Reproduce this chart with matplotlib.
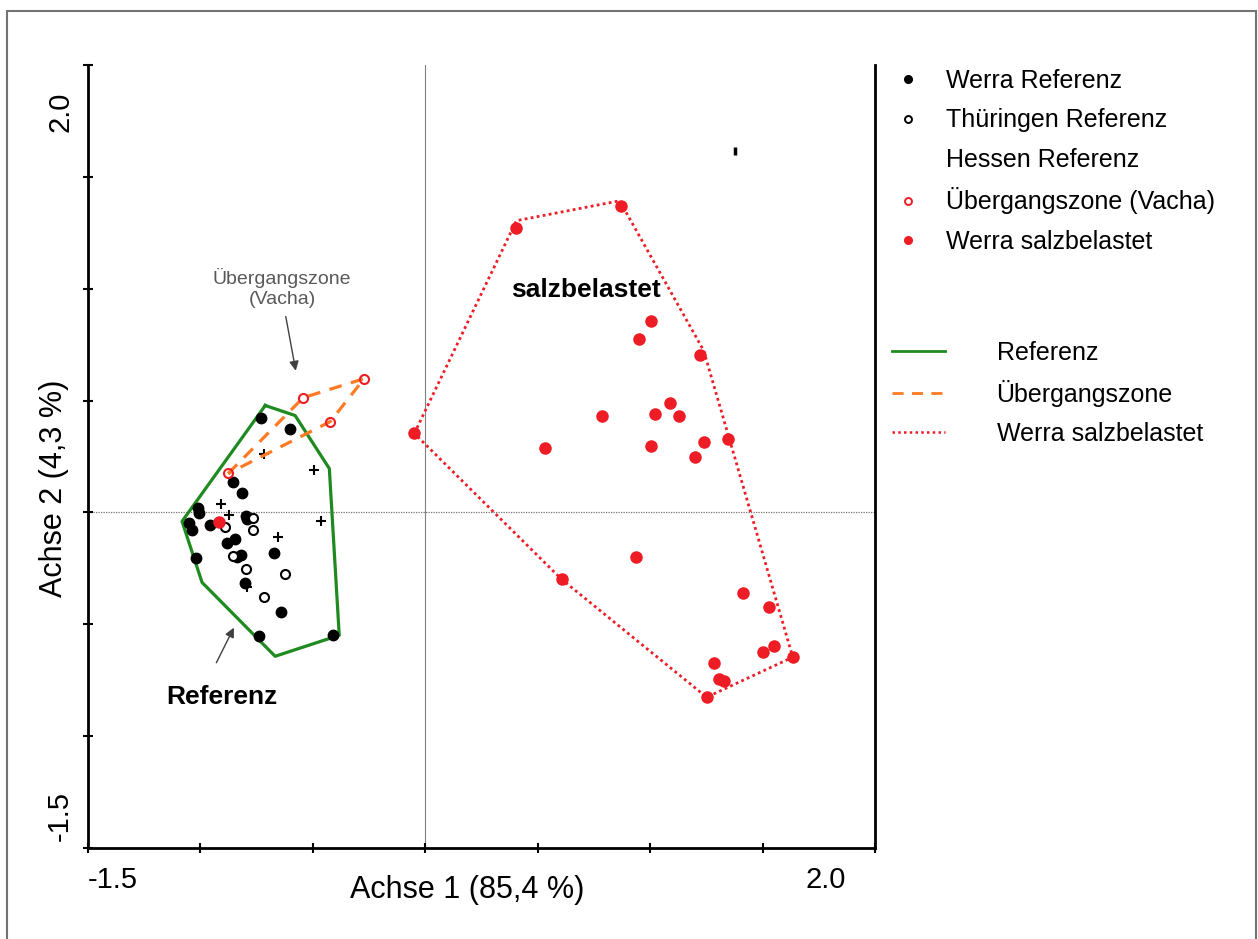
import numpy as np
import matplotlib.pyplot as plt
from matplotlib.lines import Line2D
from matplotlib.patches import Rectangle

plt.rcParams['font.family'] = ['Liberation Sans', 'DejaVu Sans']

# Werra Referenz (schwarz gefuellt)
werra_ref_x = [-0.730, -0.601, -0.855, -0.815, -1.011, -1.006, -1.051, -1.037, -0.957, -0.797,
               -0.793, -0.846, -0.882, -0.819, -0.837, -0.672, -1.020, -0.801, -0.641, -0.739, -0.410]
werra_ref_y = [0.420, 0.371, 0.138, 0.089, 0.018, -0.004, -0.049, -0.080, -0.054, -0.018,
               -0.031, -0.121, -0.138, -0.192, -0.201, -0.183, -0.205, -0.317, -0.446, -0.554, -0.549]

# Thueringen Referenz (offene Kreise)
thue_ref_x = [-0.766, -0.766, -0.890, -0.855, -0.797, -0.623, -0.717]
thue_ref_y = [-0.027, -0.080, -0.063, -0.196, -0.254, -0.277, -0.379]

# Hessen Referenz (+)
hessen_ref_x = [-0.717, -0.494, -0.908, -0.873, -0.463, -0.654, -0.792]
hessen_ref_y = [0.263, 0.188, 0.036, -0.013, -0.040, -0.112, -0.335]
hessen_extra_x = [1.376]
hessen_extra_y = [1.616]

# Uebergangszone Vacha (rote offene Kreise)
vacha_x = [-0.272, -0.543, -0.423, -0.877]
vacha_y = [0.598, 0.513, 0.406, 0.174]

# Werra salzbelastet (rot gefuellt)
salz_x = [0.405, 0.868, -0.049, 1.002, 0.948, 1.220, 0.784, 1.020, 1.086, 1.126,
          0.534, 1.002, 1.238, 1.345, 1.198, 0.935, 0.606, 1.411, 1.527, 1.500,
          1.549, 1.634, 1.282, 1.305, 1.327, 1.251, -0.917]
salz_y = [1.272, 1.371, 0.353, 0.857, 0.777, 0.705, 0.433, 0.438, 0.487, 0.433,
          0.286, 0.295, 0.317, 0.326, 0.246, -0.201, -0.299, -0.362, -0.424, -0.625,
          -0.598, -0.647, -0.674, -0.746, -0.754, -0.826, -0.045]

# Huellen
ref_hull_x = [-0.712, -0.579, -0.427, -0.383, -0.668, -0.993, -1.082]
ref_hull_y = [0.478, 0.433, 0.196, -0.549, -0.643, -0.313, -0.040]
vacha_hull_x = [-0.877, -0.543, -0.272, -0.423]
vacha_hull_y = [0.174, 0.513, 0.598, 0.406]
salz_hull_x = [-0.049, 0.405, 0.864, 1.238, 1.634, 1.251, 0.606]
salz_hull_y = [0.353, 1.304, 1.393, 0.723, -0.647, -0.826, -0.299]

green = '#1f8a1f'
orange = '#ff7a22'
red = '#ee1c25'


def closed(xs, ys):
    return list(xs) + [xs[0]], list(ys) + [ys[0]]


fig = plt.figure(figsize=(12.58, 9.39), dpi=100)
fig.add_artist(Rectangle((0.0056, -0.02), 0.9928, 1.008, transform=fig.transFigure,
                         fill=False, edgecolor='0.45', lw=1.5))

ax = fig.add_axes([0.0700, 0.0969, 0.6256, 0.8339])
ax.set_xlim(-1.5, 2.0)
ax.set_ylim(-1.5, 2.0)

ax.axvline(0, color='0.5', lw=0.8, zorder=0)
ax.axhline(0, color='0.45', lw=0.9, ls=(0, (1, 1)), zorder=0)

hx, hy = closed(ref_hull_x, ref_hull_y)
ax.plot(hx, hy, color=green, lw=2.3, zorder=2)
hx, hy = closed(salz_hull_x, salz_hull_y)
ax.plot(hx, hy, color=red, lw=2.0, ls=(0, (1, 1.2)), zorder=2)

ax.plot(werra_ref_x, werra_ref_y, 'o', color='k', ms=7.5, ls='none', zorder=3)
ax.plot(thue_ref_x, thue_ref_y, 'o', mfc='white', mec='k', mew=1.5, ms=6.5, ls='none', zorder=3)
ax.plot(hessen_ref_x, hessen_ref_y, '+', color='k', ms=7, mew=1.5, ls='none', zorder=3)
ax.plot(hessen_extra_x, hessen_extra_y, '|', color='k', ms=6, mew=2.5, ls='none', zorder=3)
ax.plot(salz_x, salz_y, 'o', color=red, ms=8, ls='none', zorder=3)

hx, hy = closed(vacha_hull_x, vacha_hull_y)
ax.plot(hx, hy, color=orange, lw=2.3, ls=(0, (4, 3)), zorder=4)
ax.plot(vacha_x, vacha_y, 'o', mfc='none', mec=red, mew=1.5, ms=6.5, ls='none', zorder=5)

# Beschriftungen im Diagramm
ax.text(0.712, 0.996, 'salzbelastet', fontsize=19, fontweight='bold', ha='center', va='center')
ax.text(-0.904, -0.826, 'Referenz', fontsize=19, fontweight='bold', ha='center', va='center')
ax.annotate('', xy=(-0.846, -0.504), xytext=(-0.935, -0.683),
            arrowprops=dict(arrowstyle='-|>', color='0.25', lw=1, mutation_scale=14))
ax.text(-0.637, 1.004, '\u00dcbergangszone\n(Vacha)', fontsize=14, color='0.35',
        ha='center', va='center', linespacing=1.25)
ax.annotate('', xy=(-0.574, 0.621), xytext=(-0.623, 0.888),
            arrowprops=dict(arrowstyle='-|>', color='0.25', lw=1, mutation_scale=14))

# Achsen
for s in ax.spines.values():
    s.set_linewidth(2)
ax.spines['top'].set_visible(False)
ax.set_xticks(np.arange(-1.5, 2.01, 0.5))
ax.set_yticks(np.arange(-1.5, 2.01, 0.5))
ax.tick_params(direction='inout', length=7, width=1.5, labelbottom=False, labelleft=False)

ax.annotate('-1.5', xy=(-1.5, 0), xycoords=('data', 'axes fraction'), xytext=(0, -32),
            textcoords='offset pixels', ha='left', va='center', fontsize=21)
ax.annotate('2.0', xy=(2.0, 0), xycoords=('data', 'axes fraction'), xytext=(-49, -32),
            textcoords='offset pixels', ha='center', va='center', fontsize=21)
ax.annotate('2.0', xy=(0, 2.0), xycoords=('axes fraction', 'data'), xytext=(-28, -47),
            textcoords='offset pixels', ha='center', va='center', fontsize=21, rotation=90)
ax.annotate('-1.5', xy=(0, -1.5), xycoords=('axes fraction', 'data'), xytext=(-28, 32),
            textcoords='offset pixels', ha='center', va='center', fontsize=21, rotation=90)

ax.set_xlabel('Achse 1 (85,4 %)', fontsize=22)
ax.xaxis.set_label_coords(0.4816, -0.035)
ax.set_ylabel('Achse 2 (4,3 %)', fontsize=22)
ax.yaxis.set_label_coords(-0.024, 0.46)

# Legenden
h1 = [Line2D([], [], marker='o', color='k', ms=5.5, ls='none'),
      Line2D([], [], marker='o', mfc='white', mec='k', mew=1.4, ms=5, ls='none'),
      Line2D([], [], marker='none', ls='none'),
      Line2D([], [], marker='o', mfc='white', mec=red, mew=1.4, ms=5, ls='none'),
      Line2D([], [], marker='o', color=red, ms=5.5, ls='none')]
l1 = ['Werra Referenz', 'Th\u00fcringen Referenz', 'Hessen Referenz',
      '\u00dcbergangszone (Vacha)', 'Werra salzbelastet']
leg1 = fig.legend(h1, l1, loc='upper left', bbox_to_anchor=(895 / 1258, 1 - 69 / 939),
                  frameon=False, fontsize=18, handlelength=1.0, handletextpad=1.06,
                  borderpad=0, borderaxespad=0, labelspacing=0.62)

h2 = [Line2D([], [], color=green, lw=2),
      Line2D([], [], color=orange, lw=2, ls=(0, (4, 3))),
      Line2D([], [], color=red, lw=1.8, ls=(0, (1, 1.3)))]
l2 = ['Referenz', '\u00dcbergangszone', 'Werra salzbelastet']
leg2 = fig.legend(h2, l2, loc='upper left', bbox_to_anchor=(892 / 1258, 1 - 341 / 939),
                  frameon=False, fontsize=18, handlelength=2.1, handletextpad=2.08,
                  borderpad=0, borderaxespad=0, labelspacing=0.6)

fig.savefig('out.png', dpi=100)
